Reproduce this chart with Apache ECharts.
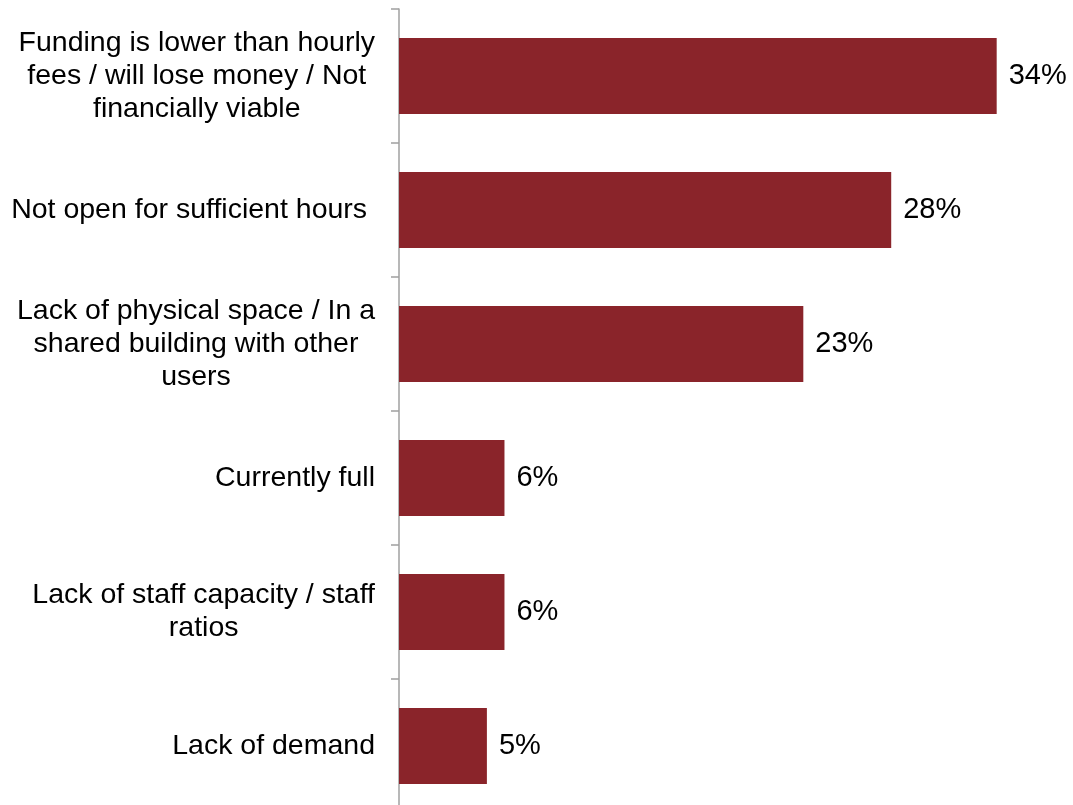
<!DOCTYPE html>
<html>
<head>
<meta charset="utf-8">
<script src="https://cdn.jsdelivr.net/npm/echarts@6/dist/echarts.min.js"></script>
<style>
html,body{margin:0;padding:0;background:#fff;overflow:hidden;}
#chart{width:1073px;height:830px;}
</style>
</head>
<body>
<div id="chart"></div>
<script>
const categories = [
  "Funding is lower than hourly\nfees / will lose money / Not\nfinancially viable",
  "Not open for sufficient hours ",
  "Lack of physical space / In a\nshared building with other\nusers",
  "Currently full",
  "Lack of staff capacity / staff\nratios",
  "Lack of demand"
];
const values = [34, 28, 23, 6, 6, 5];

const chart = echarts.init(document.getElementById('chart'));
const font = '"Liberation Sans", Arial, sans-serif';
chart.setOption({
  animation: false,
  backgroundColor: '#ffffff',
  grid: { left: 399, right: 6, top: 9, height: 804, containLabel: false },
  xAxis: {
    type: 'value', min: 0, max: 38,
    show: false
  },
  yAxis: {
    type: 'category',
    data: categories,
    inverse: true,
    axisLine: { show: true, lineStyle: { color: '#a0a0a0', width: 1.5 } },
    axisTick: { show: true, length: 8, lineStyle: { color: '#a0a0a0', width: 1.5 } },
    axisLabel: {
      color: '#000', fontSize: 28.5, fontFamily: font, margin: 24,
      lineHeight: 33, align: 'right',
      formatter: v => v.split('\n').map(s => '{c|' + s + '}').join('\n'),
      rich: {
        c: { align: 'center', color: '#000', fontSize: 28.5, fontFamily: font, lineHeight: 33 }
      }
    }
  },
  series: [{
    type: 'bar',
    data: values,
    barWidth: 76,
    itemStyle: { color: '#8a242a' },
    label: {
      show: true, position: 'right', distance: 12,
      color: '#000', fontSize: 29, fontFamily: font,
      formatter: p => p.value + '%'
    }
  }]
});
</script>
</body>
</html>
